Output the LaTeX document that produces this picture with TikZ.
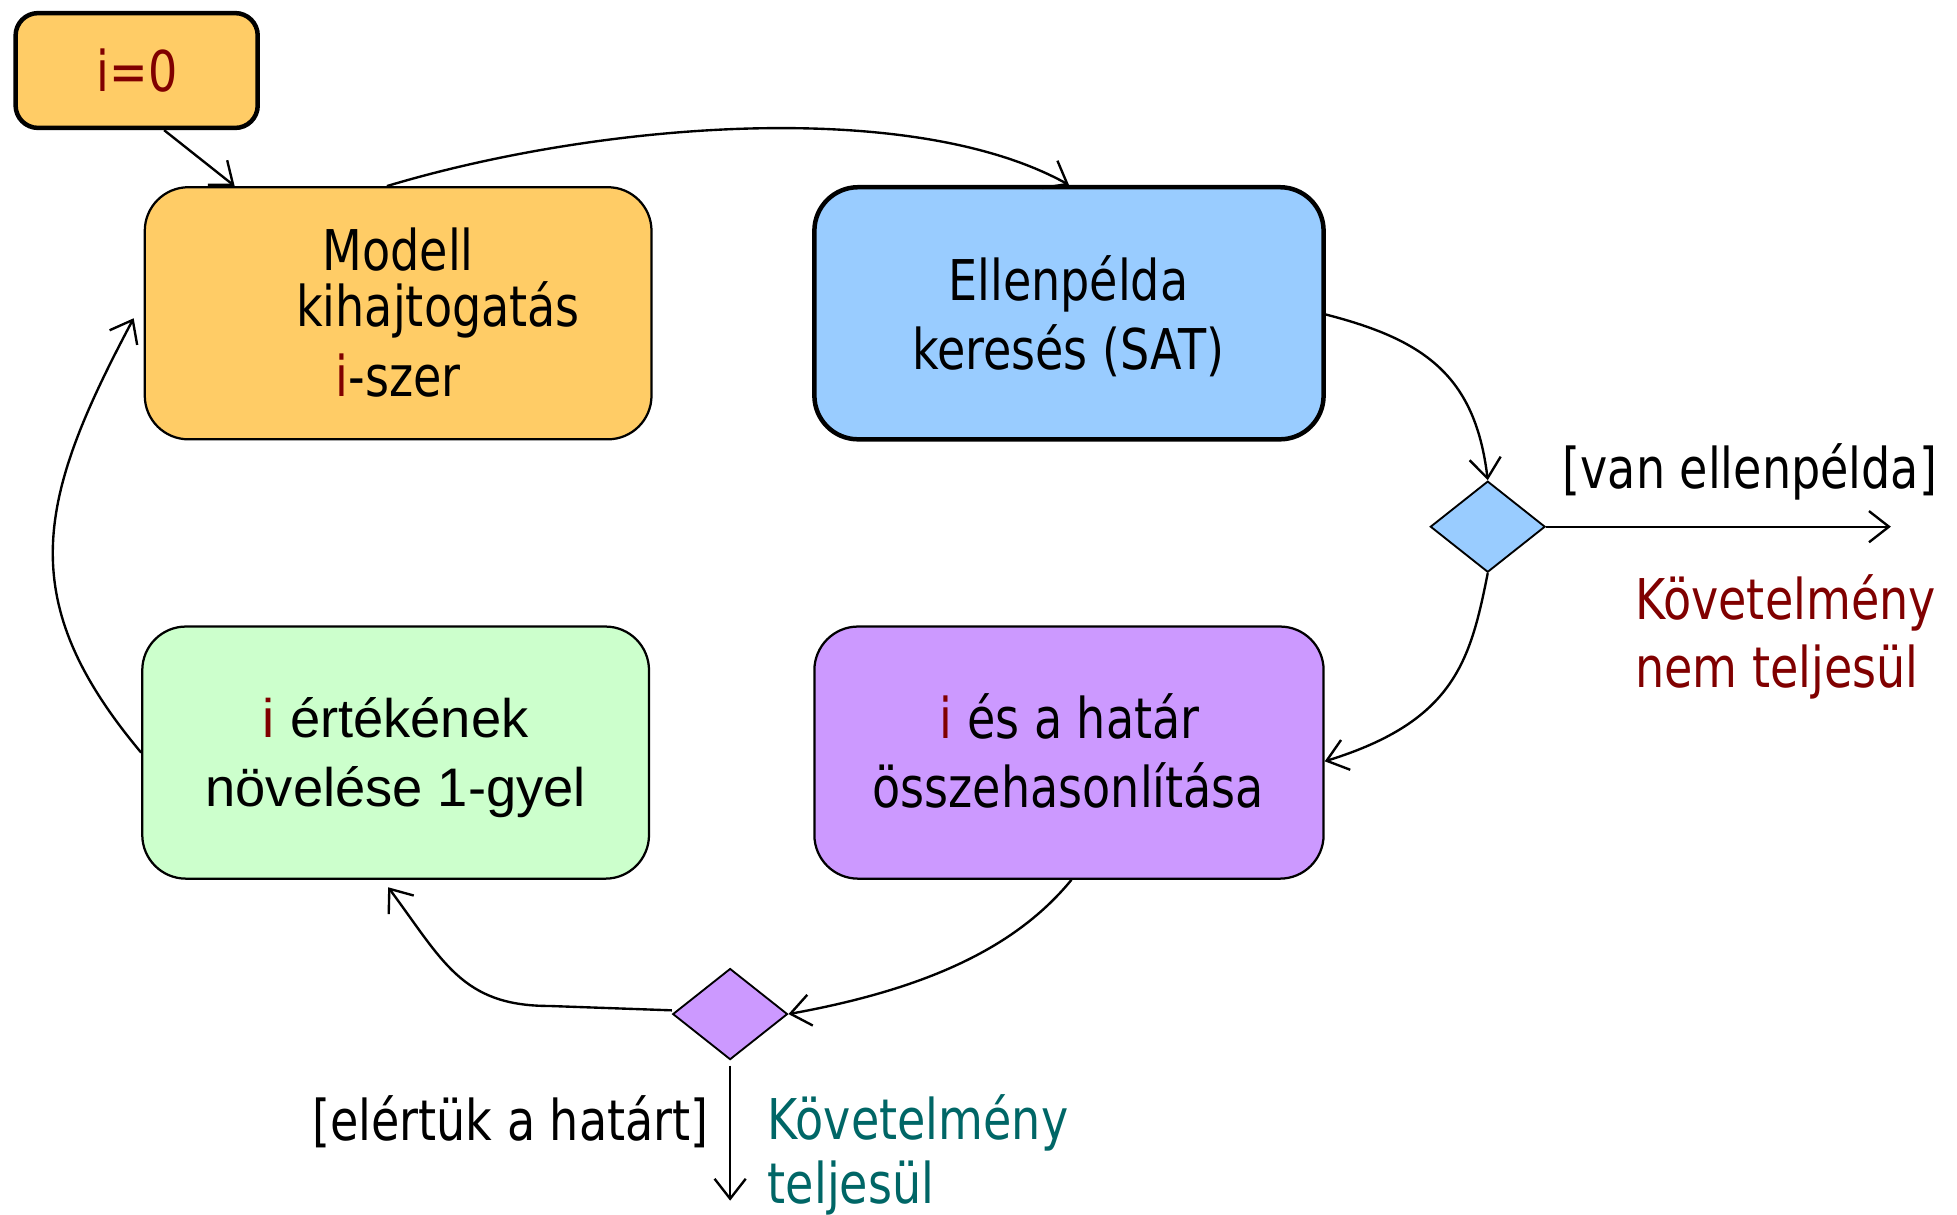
\documentclass[tikz,border=0pt]{standalone}
\usepackage{fontspec}
\usetikzlibrary{arrows.meta,shapes.geometric}
\newfontfamily\tah[FakeStretch=0.82]{DejaVu Sans}
\newfontfamily\ari{Liberation Sans}
\definecolor{orangeC}{HTML}{FFCC66}
\definecolor{blueC}{HTML}{99CCFF}
\definecolor{purpleC}{HTML}{CC99FF}
\definecolor{greenC}{HTML}{CCFFCC}
\definecolor{darkred}{HTML}{800000}
\definecolor{tealC}{HTML}{006666}
\begin{document}
\begin{tikzpicture}[x=1pt,y=-1pt,
  box/.style={draw,line width=1.8pt,rounded corners=35pt,inner sep=0pt},
  thickbox/.style={box,line width=3.6pt},
  dia/.style={diamond,draw,line width=1.5pt,inner sep=0pt,minimum width=92pt,minimum height=73pt,aspect=1.26},
  tx/.style={font=\tah\fontsize{45}{56}\selectfont,inner sep=0pt,anchor=base},
  ta/.style={font=\ari\fontsize{43.5}{56}\selectfont,inner sep=0pt,anchor=base},
  arr/.style={line width=1.9pt,-{Straight Barb[length=16pt,width=25pt,line width=1.9pt]}},
  ln/.style={line width=1.9pt}]
\useasboundingbox (0,0) rectangle (1568,973);
% boxes
\node[thickbox,fill=orangeC,rounded corners=18pt,minimum width=194pt,minimum height=92pt] (i0) at (109.5,56.5) {};
\node[box,fill=orangeC,minimum width=406pt,minimum height=202pt] (modell) at (319,251) {};
\node[thickbox,fill=blueC,minimum width=408pt,minimum height=202pt] (ellen) at (856.5,251) {};
\node[box,fill=purpleC,minimum width=408pt,minimum height=202pt] (hatar) at (856.5,603) {};
\node[box,fill=greenC,minimum width=406pt,minimum height=202pt] (novel) at (317,603) {};
\node[dia,fill=blueC] (d1) at (1192,422) {};
\node[dia,fill=purpleC] (d2) at (585,812.5) {};
% texts
\node[tx,text=darkred] (ti0) at (110,73) {i=0};
\node[tx] (tm1) at (319,217) {Modell};
\node[tx] (tm2) at (351,262) {kihajtogatás};
\node[tx] (tm3) at (319,318) {\textcolor{darkred}{i}-szer};
\node[tx] (te1) at (856,241) {Ellenpélda};
\node[tx] (te2) at (856,296) {keresés (SAT)};
\node[tx] (th1) at (857,592) {\textcolor{darkred}{i} és a határ};
\node[tx] (th2) at (856,647) {összehasonlítása};
\node[ta] (tn1) at (317,591) {\textcolor{darkred}{i} értékének};
\node[ta] (tn2) at (317,646) {növelése 1-gyel};
\node[tx] (tvan) at (1402,391) {[van ellenpélda]};
\node[tx,text=darkred,anchor=base west] (tk1) at (1310,496) {Követelmény};
\node[tx,text=darkred,anchor=base west] (tk2) at (1310,551) {nem teljesül};
\node[tx,anchor=base east] (telert) at (568,914) {[elértük a határt]};
\node[tx,text=tealC,anchor=base west] (tt1) at (615,913) {Követelmény};
\node[tx,text=tealC,anchor=base west] (tt2) at (615,964) {teljesül};
% free ends
\coordinate (out1) at (1515,422);
\coordinate (out2) at (585,962);
% connectors
\draw[arr] ([xshift=22pt]i0.south) -- ([xshift=-131pt]modell.north);
\draw[arr] ([xshift=-9pt]modell.north) .. controls (480,98) and (730,78) .. (ellen.north);
\draw[arr] ([yshift=-1pt]ellen.east) .. controls (1140,272) and (1182,300) .. (d1.north);
\draw[arr] (d1.south) .. controls (1178,530) and (1165,578) .. ([yshift=-7pt]hatar.east);
\draw[arr] ([xshift=2pt]hatar.south) .. controls (815,758) and (745,792) .. (d2.east);
\draw[arr] ([yshift=3pt]d2.west) -- (440,806) .. controls (370,806) and (355,770) .. ([xshift=-6pt,yshift=-6pt]novel.south);
\draw[arr] (novel.west) .. controls (10,480) and (30,400) .. ([xshift=-8pt,yshift=-4pt]modell.west);
\draw[arr] (d1.east) -- (out1);
\draw[arr] ([yshift=-4pt]d2.south) -- (out2);
\end{tikzpicture}
\end{document}
